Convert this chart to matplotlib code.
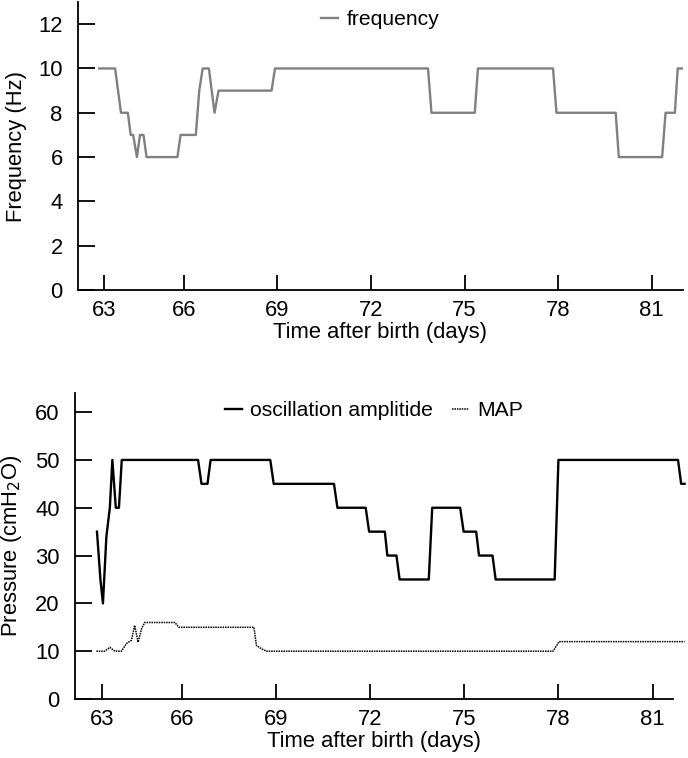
import matplotlib.pyplot as plt

plt.rcParams['font.family'] = ['Liberation Sans', 'DejaVu Sans']

# frequency (Hz) vs days
freq_t = [63.28, 63.79, 63.98, 64.2, 64.29, 64.37, 64.49, 64.59, 64.7, 64.8,
          65.79, 65.89, 66.38, 66.49, 66.6, 66.8, 66.98, 67.11, 68.81, 68.92,
          73.83, 73.94, 75.33, 75.43, 77.84, 77.95, 79.85, 79.95, 81.34, 81.45,
          81.75, 81.84, 81.98]
freq_v = [10, 10, 8, 8, 7, 7, 6, 7, 7, 6,
          6, 7, 7, 9, 10, 10, 8, 9, 9, 10,
          10, 8, 8, 10, 10, 8, 8, 6, 6, 8,
          8, 10, 10]

# oscillation amplitude (cmH2O)
amp_t = [63.30, 63.41, 63.49, 63.60, 63.71, 63.79, 63.90, 64.0, 64.09, 66.52,
         66.63, 66.82, 66.92, 68.82, 68.93, 70.85, 70.96, 71.86, 71.97, 72.47,
         72.55, 72.84, 72.94, 73.87, 73.98, 74.87, 74.98, 75.38, 75.47, 75.90,
         76.0, 77.88, 78.0, 81.81, 81.91, 82.02]
amp_v = [35, 25, 20, 34, 40, 50, 40, 40, 50, 50,
         45, 45, 50, 50, 45, 45, 40, 40, 35, 35,
         30, 30, 25, 25, 40, 40, 35, 35, 30, 30,
         25, 25, 50, 50, 45, 45]

# mean airway pressure (cmH2O)
map_t = [63.28, 63.55, 63.71, 63.87, 64.08, 64.24, 64.4, 64.5, 64.61, 64.72,
         64.82, 65.78, 65.91, 68.30, 68.38, 68.54, 68.70, 77.83, 78.02, 82.02]
map_v = [10, 10, 10.8, 10, 10, 11.6, 12.3, 15.4, 11.9, 14.7,
         16, 16, 15, 15, 11.2, 10.5, 10, 10, 12, 12]

tick_pos = [63.45, 66, 69, 72, 75, 78, 81]
tick_lab = ["63", "66", "69", "72", "75", "78", "81"]

fs = 15.8

fig = plt.figure(figsize=(6.88, 7.58), dpi=100)
ax1 = fig.add_axes([78/688, 1-290/758, 604.7/688, 288/758])
ax2 = fig.add_axes([75/688, 1-699/758, 598/688, 306/758])

ax1.plot(freq_t, freq_v, color="#808080", lw=1.7, label="frequency")
ax1.set_ylim(0, 13)
ax1.set_xlim(62.6, 82)
ax1.set_yticks([0, 2, 4, 6, 8, 10, 12])
ax1.set_ylabel("Frequency (Hz)", fontsize=fs, labelpad=8)

ax2.plot(amp_t, amp_v, color="black", lw=1.7, clip_on=False,
         label="oscillation amplitide")
ax2.plot(map_t, map_v, color="black", lw=1.1, ls=(0, (1, 0.6)), clip_on=False,
         label="MAP")
ax2.set_ylim(0, 64)
ax2.set_xlim(62.6, 81.65)
ax2.set_yticks([0, 10, 20, 30, 40, 50, 60])
ax2.set_ylabel("Pressure (cmH$_2$O)", fontsize=fs, labelpad=8)

for ax in (ax1, ax2):
    ax.spines["top"].set_visible(False)
    ax.spines["right"].set_visible(False)
    ax.spines["left"].set_linewidth(1.3)
    ax.spines["bottom"].set_linewidth(1.3)
    ax.set_xticks(tick_pos)
    ax.set_xticklabels(tick_lab)
    ax.tick_params(axis="y", direction="in", length=12, width=1.3, pad=11,
                   labelsize=fs)
    ax.tick_params(axis="x", direction="in", length=11, width=1.3, pad=7,
                   labelsize=fs)
    ax.set_xlabel("Time after birth (days)", fontsize=fs, labelpad=1)
    ax.legend(loc="upper center", frameon=False, fontsize=fs - 0.6, ncol=2,
              handlelength=0.8, handletextpad=0.4, columnspacing=0.9,
              borderaxespad=0.1, borderpad=0.3)

plt.savefig("out.png", dpi=100)
